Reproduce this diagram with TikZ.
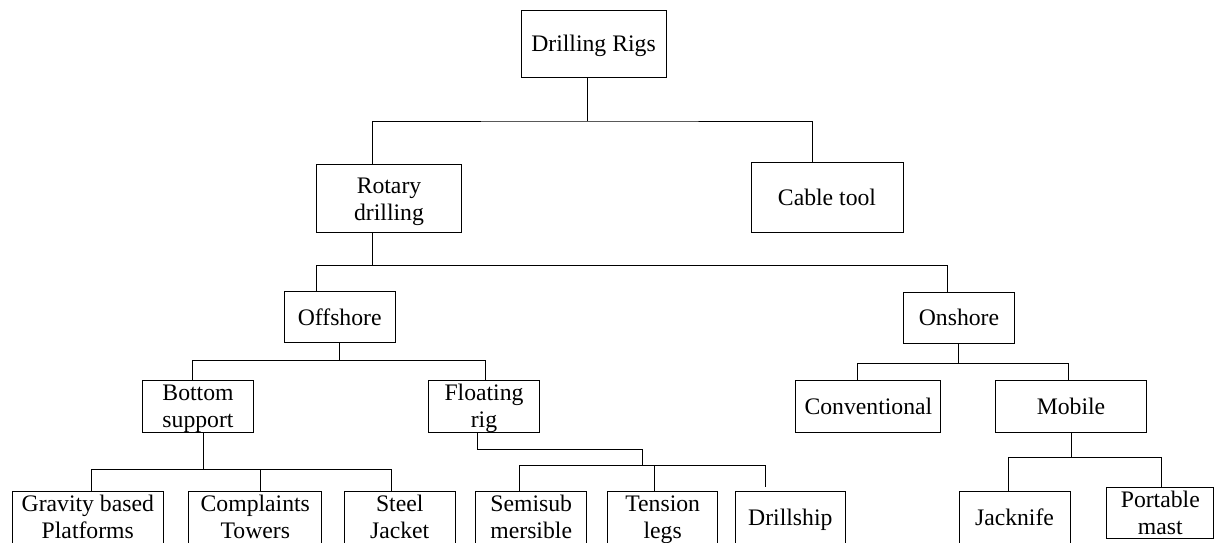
\documentclass[tikz,border=0pt]{standalone}
\usepackage{fontspec}
\setmainfont{Liberation Serif}
\begin{document}
\begin{tikzpicture}[x=1pt,y=-1pt,line width=1pt,%
        every node/.style={font=\fontsize{23.7}{27}\selectfont},%
        box/.style={draw=black,align=center,inner sep=0pt,text depth=0pt,
          minimum height=52pt}]%
        \useasboundingbox (0,0) rectangle (1215,542);
        \node[box,minimum width=145pt,minimum height=67pt] (rigs) at
        (593.5,43.5) {Drilling Rigs}; \node[box,minimum width=145pt,minimum
        height=68pt] (rotary) at (389,198.9) {Rotary\\drilling};
        \node[box,minimum width=152pt,minimum height=70pt] (cable) at
        (827,197.5) {Cable tool}; \node[box,minimum width=111pt,minimum
        height=51pt] (offshore) at (339.7,317.4) {Offshore};
        \node[box,minimum width=111pt,minimum height=51pt] (onshore) at
        (959,317.6) {Onshore}; \node[box,minimum width=111pt] (bottom) at
        (198,406) {Bottom\\support}; \node[box,minimum width=111pt]
        (floating) at (484,406) {Floating\\rig}; \node[box,minimum
        width=145pt] (conv) at (868.4,406) {Conventional}; \node[box,minimum
        width=151pt] (mobile) at (1071,406) {Mobile};
        \node[box,minimum width=151pt] (gravity) at (87.8,517) {Gravity
          based\\Platforms}; \node[box,minimum width=133pt] (complaints) at
        (255.3,517) {Complaints\\Towers}; \node[box,minimum width=111pt]
        (steel) at (399.7,517) {Steel\\Jacket}; \node[box,minimum
        width=111pt] (semisub) at (531.2,517) {Semisub\\mersible};
        \node[box,minimum width=110pt] (tension) at (662.7,517)
        {Tension\\legs}; \node[box,minimum width=110pt] (drillship) at
        (790.3,517) {Drillship}; \node[box,minimum width=111pt] (jacknife)
        at (1014.5,517) {Jacknife}; \node[box,minimum width=107pt,minimum
        height=51pt] (portable) at (1160.3,512.8) {Portable\\mast};
        \coordinate (j1) at (587,121); \coordinate (j2) at (372.9,265.5);
        \coordinate (j3) at (339,360.5); \coordinate (j4) at (203.3,469.3);
        \coordinate (j5) at (642.7,449.3); \coordinate (j6) at (642.7,465);
        \coordinate (j7) at (958.3,363.3); \coordinate (j8) at (1071,457.3);
        \draw (rigs.south -| j1) -- (j1); \draw ([xshift=-16.1pt]rotary.north)
        |- (j1) -| ([xshift=-14.4pt]cable.north);
        \draw (rotary.south -| j2) -- (j2); \draw
        ([xshift=-23.7pt]offshore.north) |- (j2) -| ([xshift=-12pt]onshore.north);
        \draw (offshore.south -| j3) -- (j3); \draw
        ([xshift=-5.7pt]bottom.north) |- (j3) -| ([xshift=1.3pt]floating.north);
        \draw (bottom.south -| j4) -- (j4); \draw
        ([xshift=3.2pt]gravity.north) |- (j4) -| ([xshift=-8pt]steel.north);
        \draw ([xshift=4.7pt]complaints.north) |- (j4);
        \draw ([xshift=-6.3pt]floating.south) |- (j5) -- (j6); \draw
        ([xshift=-12.2pt]semisub.north) |- (j6) -| ([xshift=-25.3pt,yshift=3.4pt]drillship.north);
        \draw ([xshift=-8.7pt]tension.north) |- (j6);
        \draw (onshore.south -| j7) -- (j7); \draw
        ([xshift=-11.1pt]conv.north) |- (j7) -| ([xshift=-2.3pt]mobile.north);
        \draw (mobile.south -| j8) -- (j8); \draw
        ([xshift=-6.5pt]jacknife.north) |- (j8) -| ([xshift=0.7pt]portable.north);
      \end{tikzpicture}
\end{document}
